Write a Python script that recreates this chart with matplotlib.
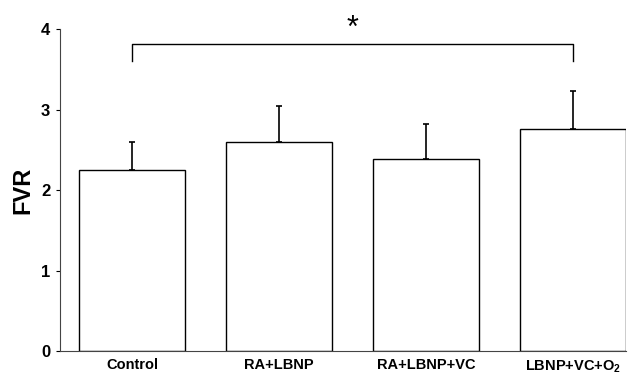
import matplotlib.pyplot as plt
import numpy as np

plt.rcParams['font.family'] = ['Liberation Sans', 'DejaVu Sans']
plt.rcParams['mathtext.fontset'] = 'custom'
plt.rcParams['mathtext.bf'] = 'Liberation Sans:bold'

groups = ['Control', 'RA+LBNP', 'RA+LBNP+VC', 'LBNP+VC+O$_\\mathbf{2}$']
fvr = [2.25, 2.6, 2.39, 2.76]
sem = [0.35, 0.45, 0.43, 0.47]

fig = plt.figure(figsize=(6.34, 3.74), dpi=100)
ax = fig.add_axes([0.0946, 0.0615, 0.8925, 0.8605])

x = np.arange(len(groups))
ax.bar(x, fvr, width=0.72, color='white', edgecolor='black', linewidth=1.0, zorder=2)
ax.errorbar(x, fvr, yerr=[np.zeros(len(sem)), sem], fmt='none', ecolor='black',
            elinewidth=1.2, capsize=2, capthick=1.2, zorder=1)

# significance bracket Control vs LBNP+VC+O2
ax.plot([0, 0, 3, 3], [3.61, 3.81, 3.81, 3.61], color='black', linewidth=1.0, clip_on=False)
ax.text(1.5, 4.0, '*', ha='center', va='center', fontsize=22)

ax.set_xlim(-0.49, 3.36)
ax.set_ylim(0, 4)
ax.set_yticks([0, 1, 2, 3, 4])
ax.set_xticks(x)
ax.set_xticklabels(groups, fontsize=10.5, fontweight='bold')
ax.tick_params(axis='x', length=0, pad=5)
ax.tick_params(axis='y', length=3, labelsize=12, pad=4)
for lab in ax.get_yticklabels():
    lab.set_fontweight('bold')
ax.set_ylabel('FVR', fontsize=17, fontweight='bold', labelpad=5)

ax.spines['top'].set_visible(False)
ax.spines['right'].set_visible(False)
ax.spines['left'].set_color('#444444')
ax.spines['bottom'].set_color('#444444')

plt.savefig('out.png', dpi=100)
